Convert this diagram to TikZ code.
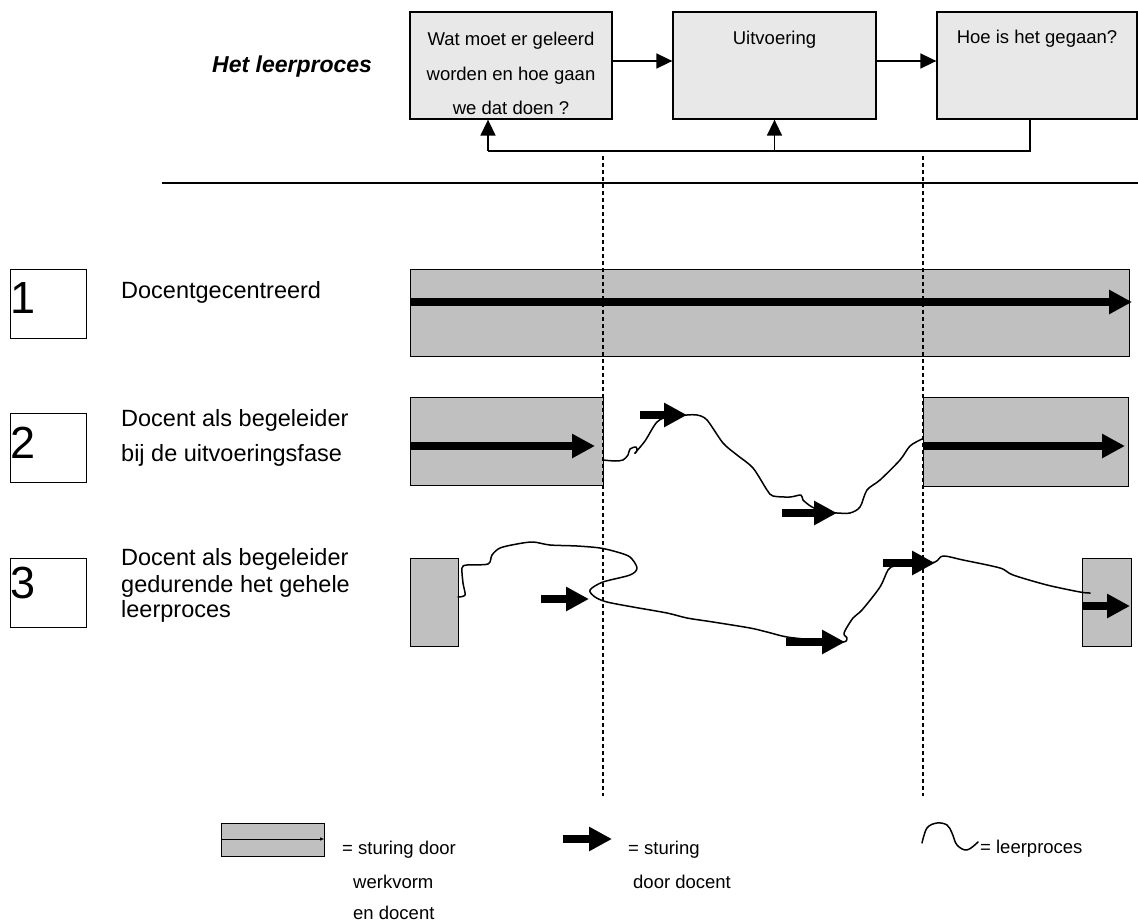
\documentclass[tikz,border=0pt]{standalone}
\usepackage{fontspec}
\setmainfont{Liberation Sans}
\usetikzlibrary{arrows.meta}
\definecolor{boxgray}{HTML}{E8E8E8}
\definecolor{bargray}{HTML}{C0C0C0}
\tikzset{
  topbox/.style={draw, line width=1.3pt, fill=boxgray, inner sep=0pt},
  bar/.style={draw, line width=1pt, fill=bargray},
  numbox/.style={draw, line width=1pt},
  conn/.style={line width=1.6pt, -{Triangle[length=16pt,width=15pt]}},
  plainconn/.style={line width=1.6pt},
  tarrow/.style={line width=8.5pt, -{Triangle[length=23pt,width=23pt]}},
  wave/.style={line width=1.5pt, line join=round, line cap=round},
  vdash/.style={line width=1.1pt, dash pattern=on 4pt off 3pt},
  boxtxt/.style={inner sep=0pt, anchor=base, font=\fontsize{18.5}{22}\selectfont},
  rowtxt/.style={inner sep=0pt, anchor=base west, font=\fontsize{23.5}{28}\selectfont},
  numtxt/.style={inner sep=0pt, anchor=base west, font=\fontsize{45}{50}\selectfont},
  legtxt/.style={inner sep=0pt, anchor=base west, font=\fontsize{18.5}{22}\selectfont}
}
\begin{document}
\begin{tikzpicture}[x=1pt,y=-1pt]
\useasboundingbox (0,0) rectangle (1138,923);

% title
\node[inner sep=0pt, anchor=base west, font=\fontsize{23}{27}\selectfont\bfseries\itshape] (title) at (212,73) {Het leerproces};

% top process boxes
\node[topbox, minimum width=202pt, minimum height=107pt] (b1) at (511,65.5) {};
\node[topbox, minimum width=203pt, minimum height=107pt] (b2) at (774.5,65.5) {};
\node[topbox, minimum width=200pt, minimum height=107pt] (b3) at (1037,65.5) {};
\node[boxtxt] (b1t1) at (511,46) {Wat moet er geleerd};
\node[boxtxt] (b1t2) at (511,81) {worden en hoe gaan};
\node[boxtxt] (b1t3) at (511,115) {we dat doen ?};
\node[boxtxt] (b2t) at (774.5,45) {Uitvoering};
\node[boxtxt] (b3t) at (1037,44) {Hoe is het gegaan?};

\draw[conn] ([yshift=4.5pt]b1.east) -- ([yshift=4.5pt]b2.west);
\draw[conn] ([yshift=4.5pt]b2.east) -- ([yshift=4.5pt]b3.west);
\coordinate (fbR) at (1030,151);
\coordinate (fbM) at (774.5,151);
\coordinate (fbL) at (488,151);
\draw[plainconn] ([xshift=-7pt]b3.south) -- (fbR) -- (fbL);
\draw[conn] (fbL) -- ([xshift=-23pt]b1.south);
\draw[conn] (fbM) -- (b2.south);

% separator
\coordinate (sepL) at (162,183);
\coordinate (sepR) at (1138,183);
\draw[line width=1.3pt] (sepL) -- (sepR);

% phase borders
\coordinate (d1t) at (603,156);
\coordinate (d1b) at (603,796);
\coordinate (d2t) at (923,156);
\coordinate (d2b) at (923,796);

% row numbers
\node[numbox, minimum width=76pt, minimum height=69pt] (n1) at (48,303.5) {};
\node[numbox, minimum width=76pt, minimum height=69pt] (n2) at (48,447.5) {};
\node[numbox, minimum width=76pt, minimum height=69pt] (n3) at (48,592.5) {};
\node[numtxt] (n1t) at (10.5,313) {1};
\node[numtxt] (n2t) at (10.5,458) {2};
\node[numtxt] (n3t) at (10.5,598) {3};

\node[rowtxt] (r1) at (121,298) {Docentgecentreerd};
\node[rowtxt] (r2a) at (121,426) {Docent als begeleider};
\node[rowtxt] (r2b) at (121,461) {bij de uitvoeringsfase};
\node[rowtxt] (r3a) at (121,565) {Docent als begeleider};
\node[rowtxt] (r3b) at (121,592) {gedurende het gehele};
\node[rowtxt] (r3c) at (121,617) {leerproces};

% row 1
\draw[bar] (410,269) rectangle (1129,356);
\coordinate (a1s) at (410,302);
\coordinate (a1e) at (1132,302);
\draw[tarrow] (a1s) -- (a1e);

% row 2
\draw[bar] (410,397) rectangle (603,485);
\draw[bar] (923,397) rectangle (1128,486);
\coordinate (a2s) at (410,446);
\coordinate (a2e) at (595,446);
\draw[tarrow] (a2s) -- (a2e);
\coordinate (a3s) at (923,446);
\coordinate (a3e) at (1125,446);
\draw[tarrow] (a3s) -- (a3e);
\draw[wave] plot[smooth, tension=0.5] coordinates {(603,460) (615,461) (623,460) (628,455) (630,449) (636,447) (637,451) (635,453) (645,441) (657,422) (670,416) (687,415) (697,415) (707,420) (723,443) (737,455) (753,468) (767,490) (773,496) (790,497) (801,495) (803,500) (812,507) (825,512) (837,513) (850,513) (860,507) (867,490) (880,480) (900,460) (910,446) (922,439)};
\coordinate (k1s) at (640,415);
\coordinate (k1e) at (687,415);
\draw[tarrow] (k1s) -- (k1e);
\coordinate (k2s) at (782,513);
\coordinate (k2e) at (837,513);
\draw[tarrow] (k2s) -- (k2e);

% row 3
\draw[bar] (410,558) rectangle (458,646);
\draw[bar] (1082,558) rectangle (1131,646);
\draw[wave] plot[smooth, tension=0.5] coordinates {(458,597) (465,595) (463,583) (462,568) (467,565) (488,564) (492,555) (500,548) (517,544) (533,542) (550,545) (577,546) (600,548) (617,552) (630,557) (637,568) (630,575) (603,582) (590,590) (595,597) (607,602) (633,607) (667,613) (687,618) (713,622) (750,628) (767,632) (787,637) (815,640) (843,642) (847,638) (844,633) (853,618) (862,610) (880,587) (888,570) (895,566) (915,565) (935,562) (943,556) (963,560) (1000,568) (1013,575) (1047,585) (1080,592) (1090,593)};
\coordinate (k3s) at (541,599);
\coordinate (k3e) at (589,599);
\draw[tarrow] (k3s) -- (k3e);
\coordinate (k4s) at (786,642);
\coordinate (k4e) at (845,642);
\draw[tarrow] (k4s) -- (k4e);
\coordinate (k5s) at (883,563);
\coordinate (k5e) at (935,563);
\draw[tarrow] (k5s) -- (k5e);
\coordinate (k6s) at (1083,606);
\coordinate (k6e) at (1130,606);
\draw[tarrow] (k6s) -- (k6e);

% dashed phase lines on top
\draw[vdash] (d1t) -- (d1b);
\draw[vdash] (d2t) -- (d2b);

% legend
\draw[bar, line width=0.8pt] (221,823) rectangle (324,856);
\coordinate (l1s) at (221,839);
\coordinate (l1e) at (324,839);
\draw[line width=0.8pt, -{Triangle[length=4pt,width=3pt]}] (l1s) -- (l1e);
\node[legtxt] (lt1) at (342,854) {= sturing door};
\node[legtxt] (lt2) at (353,888) {werkvorm};
\node[legtxt] (lt3) at (353,919) {en docent};

\coordinate (l2s) at (563,839);
\coordinate (l2e) at (612,839);
\draw[tarrow] (l2s) -- (l2e);
\node[legtxt] (lt4) at (628,854) {= sturing};
\node[legtxt] (lt5) at (633,888) {door docent};

\draw[wave] plot[smooth, tension=0.6] coordinates {(922,843) (927,828) (937,823) (947,825) (952,833) (957,845) (967,850) (978,842)};
\node[legtxt] (lt6) at (980,853) {= leerproces};
\end{tikzpicture}
\end{document}
